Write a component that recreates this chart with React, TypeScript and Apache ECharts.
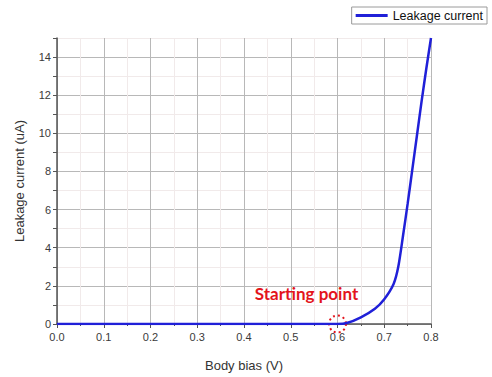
import React, { useEffect, useRef } from "react";
import * as echarts from "echarts";

const biasV: number[] = [0, 0.1, 0.2, 0.3, 0.4, 0.5, 0.6, 0.62, 0.65, 0.68, 0.7, 0.72, 0.73, 0.74, 0.75, 0.76, 0.77, 0.78, 0.79, 0.8];
const leakageUA: number[] = [0, 0, 0, 0, 0, 0, 0, 0.05, 0.35, 0.8, 1.3, 2.1, 3.0, 4.6, 6.3, 8.1, 9.9, 11.7, 13.4, 15];
const seriesName = "Leakage current";
const xAxisTitle = "Body bias (V)";
const yAxisTitle = "Leakage current (uA)";
const startLabel = "Starting point";
const startPoint: [number, number] = [0.6, 0];

export default function App() {
  const ref = useRef<HTMLDivElement>(null);
  useEffect(() => {
    if (!ref.current) return;
    const chart = echarts.init(ref.current, undefined, { renderer: "svg" });
    const data = biasV.map((x, i) => [x, leakageUA[i]]);
    const font = "'Liberation Sans', Arial, sans-serif";
    chart.setOption({
      animation: false,
      backgroundColor: "#ffffff",
      grid: { left: 57, right: 61, top: 38, bottom: 49, containLabel: false },
      legend: {
        right: 5,
        top: 7,
        padding: [2, 4, 2, 4],
        borderColor: "#9a9a9a",
        borderWidth: 1,
        itemWidth: 32,
        itemHeight: 3,
        icon: "rect",
        textStyle: { fontFamily: font, fontSize: 12.5, color: "#111" },
        data: [seriesName],
      },
      xAxis: {
        type: "value",
        min: 0,
        max: 0.8,
        interval: 0.1,
        name: xAxisTitle,
        nameLocation: "middle",
        nameGap: 35,
        nameTextStyle: { fontFamily: font, fontSize: 13, color: "#333" },
        axisLine: { show: true, lineStyle: { color: "#555", width: 1.5 } },
        axisTick: { show: true, length: 4, lineStyle: { color: "#555" } },
        minorTick: { show: true, splitNumber: 2, length: 2, lineStyle: { color: "#555" } },
        axisLabel: {
          fontFamily: font,
          fontSize: 11,
          color: "#3a3a3a",
          margin: 7,
          formatter: (v: number) => v.toFixed(1),
        },
        splitLine: { show: true, lineStyle: { color: "#b8b8b8", width: 1 } },
        minorSplitLine: { show: true, lineStyle: { color: "#f1eaea", width: 1 } },
      },
      yAxis: {
        type: "value",
        min: 0,
        max: 15,
        interval: 1,
        name: yAxisTitle,
        nameLocation: "middle",
        nameGap: 31,
        nameTextStyle: { fontFamily: font, fontSize: 13, color: "#333" },
        axisLine: { show: true, lineStyle: { color: "#555", width: 1.5 } },
        axisTick: { show: true, length: 4, lineStyle: { color: "#555" } },
        axisLabel: {
          fontFamily: font,
          fontSize: 11,
          color: "#3a3a3a",
          margin: 6,
          formatter: (v: number) => (v % 2 === 0 && v <= 14 ? String(v) : ""),
        },
        splitLine: { show: true, lineStyle: { color: ["#b8b8b8", "#f1eaea"], width: 1 } },
      },
      series: [
        {
          name: seriesName,
          type: "line",
          data,
          smooth: 0.25,
          showSymbol: false,
          symbol: "none",
          lineStyle: { color: "#2020d8", width: 2.5 },
          itemStyle: { color: "#2020d8" },
          z: 5,
          markPoint: {
            silent: true,
            symbol: "circle",
            symbolSize: 17,
            itemStyle: {
              color: "rgba(0,0,0,0)",
              borderColor: "#e3141c",
              borderWidth: 2,
              borderType: [2, 3],
            },
            label: {
              show: true,
              position: "inside",
              offset: [-31, -31],
              formatter: startLabel,
              color: "#e3141c",
              fontFamily: "Lato, 'Open Sans', sans-serif",
              fontWeight: "bold",
              fontSize: 17,
            },
            data: [{ coord: startPoint }],
          },
        },
      ],
    });
    return () => chart.dispose();
  }, []);
  return (
    <div
      ref={ref}
      style={{ position: "fixed", left: 0, top: 0, width: 492, height: 377, background: "#fff" }}
    />
  );
}
